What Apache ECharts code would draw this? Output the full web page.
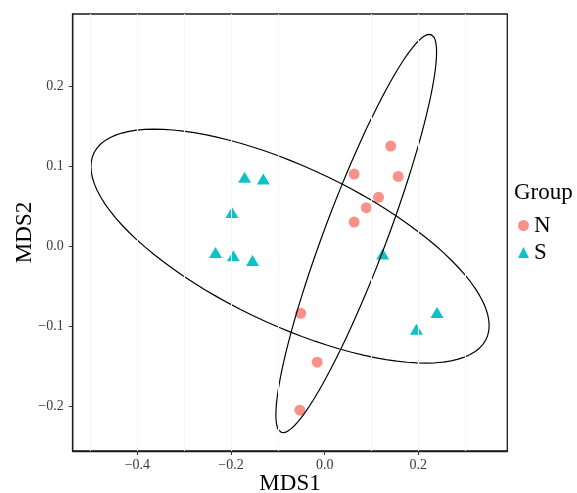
<!DOCTYPE html>
<html>
<head>
<meta charset="utf-8">
<script src="https://cdn.jsdelivr.net/npm/echarts@6/dist/echarts.min.js"></script>
<style>
html,body{margin:0;padding:0;background:#fff;}
#chart{width:577px;height:493px;}
</style>
</head>
<body>
<div id="chart"></div>
<script>
// Data
var nX = [0.141, 0.063, 0.157, 0.115, 0.089, 0.063, -0.051, -0.016, -0.053];
var nY = [0.125, 0.090, 0.087, 0.061, 0.048, 0.030, -0.084, -0.145, -0.205];
var sX = [-0.171, -0.131, -0.198, -0.233, -0.195, -0.154, 0.124, 0.240, 0.196];
var sY = [0.086, 0.084, 0.042, -0.008, -0.012, -0.018, -0.010, -0.083, -0.104];
var xTicks = [-0.4, -0.2, 0.0, 0.2];
var yTicks = [-0.2, -0.1, 0.0, 0.1, 0.2];
var xGrid = [-0.5, -0.4, -0.3, -0.2, -0.1, 0.1, 0.2, 0.3];
var groups = ['N', 'S'];
var ellipseLevel = 0.9;

function pairs(xs, ys) { return xs.map(function (x, i) { return [x, ys[i]]; }); }

// Port of MASS::cov.trob + ggplot2 stat_ellipse (type "t")
function covTrob(pts) {
  var n = pts.length, p = 2, nu = 5, maxit = 25, tol = 0.01;
  var loc = [0, 0];
  pts.forEach(function (q) { loc[0] += q[0] / n; loc[1] += q[1] / n; });
  var w = pts.map(function () { return 1; });
  var X;
  for (var it = 0; it < maxit; it++) {
    var w0 = w.slice();
    X = pts.map(function (q) { return [q[0] - loc[0], q[1] - loc[1]]; });
    var sw = w.reduce(function (a, b) { return a + b; }, 0);
    var a = 0, b = 0, c = 0;
    X.forEach(function (v, i) { a += w[i] * v[0] * v[0] / sw; b += w[i] * v[0] * v[1] / sw; c += w[i] * v[1] * v[1] / sw; });
    var det = a * c - b * b;
    var ia = c / det, ib = -b / det, ic = a / det;
    w = X.map(function (v) { var Q = ia * v[0] * v[0] + 2 * ib * v[0] * v[1] + ic * v[1] * v[1]; return (nu + p) / (nu + Q); });
    var ws = w.reduce(function (s, t) { return s + t; }, 0);
    loc = [0, 0];
    pts.forEach(function (q, i) { loc[0] += w[i] * q[0] / ws; loc[1] += w[i] * q[1] / ws; });
    var done = w.every(function (t, i) { return Math.abs(t - w0[i]) < tol; });
    if (done) break;
  }
  var ca = 0, cb = 0, cc = 0;
  X.forEach(function (v, i) { ca += w[i] * v[0] * v[0] / n; cb += w[i] * v[0] * v[1] / n; cc += w[i] * v[1] * v[1] / n; });
  return { center: loc, cov: [ca, cb, cc] };
}
function ellipse(pts) {
  var r = covTrob(pts), n = pts.length, d = n - 1;
  var qf = d / 2 * (Math.pow(1 - ellipseLevel, -2 / d) - 1); // F(2, d) quantile
  var radius = Math.sqrt(2 * qf);
  var A = Math.sqrt(r.cov[0]), B = r.cov[1] / A, C = Math.sqrt(r.cov[2] - B * B);
  var out = [], seg = 100;
  for (var k = 0; k <= seg; k++) {
    var t = k * 2 * Math.PI / seg, co = Math.cos(t), si = Math.sin(t);
    out.push([r.center[0] + radius * A * co, r.center[1] + radius * (B * co + C * si)]);
  }
  return out;
}

var nPts = pairs(nX, nY), sPts = pairs(sX, sY);
function fmt(v) { return v.toFixed(1).replace('-', '\u2212'); }
var serif = '"Liberation Serif", "DejaVu Serif", serif';

var chart = echarts.init(document.getElementById('chart'), null, { renderer: 'canvas' });
chart.setOption({
  backgroundColor: '#ffffff',
  animation: false,
  title: { text: 'Group', left: 514, top: 181, padding: 0, textStyle: { fontFamily: serif, fontSize: 23, fontWeight: 'normal', color: '#000' } },
  legend: {
    orient: 'vertical', left: 518, top: 214, padding: 0, itemWidth: 11, itemHeight: 11, itemGap: 4,
    textStyle: { fontFamily: serif, fontSize: 23, color: '#000', lineHeight: 23 },
    data: [{ name: groups[0], icon: 'circle' }, { name: groups[1], icon: 'triangle' }]
  },
  grid: { left: 72.7, right: 69.7, top: 14, bottom: 42, outerBoundsMode: 'none', containLabel: false, show: true, borderColor: '#1a1a1a', borderWidth: 1.3, backgroundColor: 'transparent' },
  xAxis: {
    type: 'value', min: -0.538, max: 0.39,
    name: 'MDS1', nameLocation: 'middle', nameGap: 21, nameMoveOverlap: false,
    nameTextStyle: { fontFamily: serif, fontSize: 23, color: '#000', lineHeight: 23 },
    axisLine: { show: true, onZero: false, lineStyle: { color: '#1a1a1a', width: 1.3 } },
    axisTick: { show: true, length: 4, customValues: xTicks, lineStyle: { color: '#333', width: 1 } },
    axisLabel: { customValues: xTicks, formatter: fmt, fontFamily: serif, fontSize: 14, color: '#3a3a3a', margin: 7 },
    splitLine: { show: false }
  },
  yAxis: {
    type: 'value', min: -0.256, max: 0.29,
    name: 'MDS2', nameLocation: 'middle', nameGap: 36, nameRotate: 90, nameMoveOverlap: false,
    nameTextStyle: { fontFamily: serif, fontSize: 23, color: '#000', lineHeight: 23 },
    axisLine: { show: true, onZero: false, lineStyle: { color: '#1a1a1a', width: 1.3 } },
    axisTick: { show: true, length: 4, customValues: yTicks, lineStyle: { color: '#333', width: 1 } },
    axisLabel: { customValues: yTicks, formatter: fmt, fontFamily: serif, fontSize: 14, color: '#3a3a3a', margin: 9 },
    splitLine: { show: false }
  },
  series: [
    {
      name: 'grid', type: 'line', data: [], silent: true, z: 0,
      markLine: { silent: true, symbol: 'none', label: { show: false }, lineStyle: { color: '#f5f5f5', width: 1, type: 'solid' },
        data: xGrid.map(function (v) { return { xAxis: v }; }) }
    },
    {
      name: 'ellipseN', type: 'line', data: ellipse(nPts), showSymbol: false, symbol: 'none', smooth: false, silent: true,
      lineStyle: { color: '#000', width: 1.2 }, z: 3
    },
    {
      name: 'ellipseS', type: 'line', data: ellipse(sPts), showSymbol: false, symbol: 'none', smooth: false, silent: true,
      lineStyle: { color: '#000', width: 1.2 }, z: 3
    },
    {
      name: groups[0], type: 'scatter', data: nPts, symbol: 'circle', symbolSize: 11,
      itemStyle: { color: '#F8766D', opacity: 0.8 }, z: 2
    },
    {
      name: groups[1], type: 'scatter', data: sPts, symbol: 'triangle', symbolSize: [13, 11],
      itemStyle: { color: '#00BFC4', opacity: 0.95 }, z: 2
    }
  ]
});
</script>
</body>
</html>
